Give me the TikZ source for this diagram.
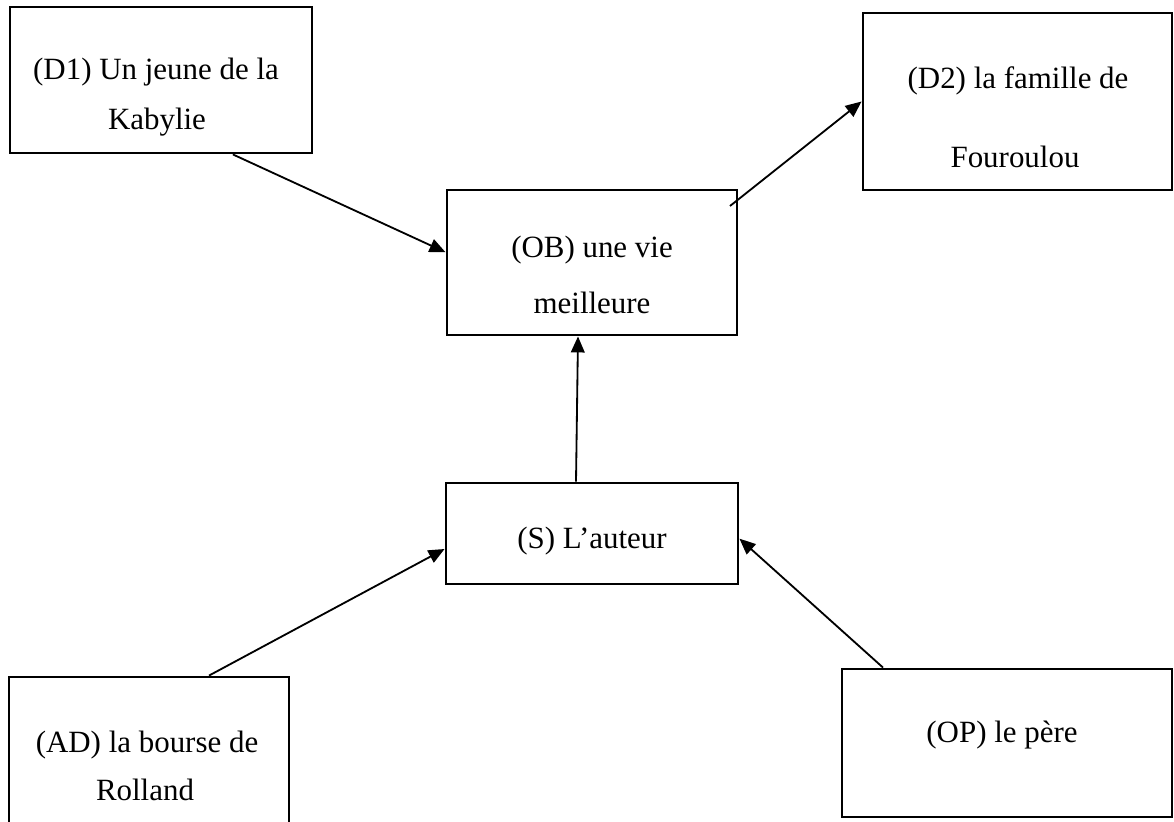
\documentclass[tikz,border=0pt]{standalone}
\usepackage{fontspec}
\setmainfont{Liberation Serif}
\usetikzlibrary{arrows.meta}
\begin{document}
\begin{tikzpicture}[x=0.025cm,y=-0.025cm,line join=miter,
    box/.style={draw,line width=2pt,inner sep=0pt},
    txt/.style={anchor=base,inner sep=0pt,font=\fontsize{22}{26}\selectfont},
    link/.style={line width=1.3pt,-{Triangle[length=0.4cm,width=0.34cm]}}]
  \useasboundingbox (0,0) rectangle (1174,821);
  \clip (0,0) rectangle (1174,821);
  % boxes
  \node[box,minimum width=7.55cm,minimum height=3.65cm] (D1) at (161,80) {};
  \node[box,minimum width=7.725cm,minimum height=4.425cm] (D2) at (1017.5,101.5) {};
  \node[box,minimum width=7.25cm,minimum height=3.625cm] (OB) at (592,262.5) {};
  \node[box,minimum width=7.3cm,minimum height=2.525cm] (S) at (592,533.5) {};
  \node[box,minimum width=7cm,minimum height=3.825cm] (AD) at (149,753.5) {};
  \node[box,minimum width=8.25cm,minimum height=3.7cm] (OP) at (1007,743) {};
  % texts
  \node[txt] (D1a) at (156,79) {(D1) Un jeune de la};
  \node[txt] (D1b) at (157,129) {Kabylie};
  \node[txt] (D2a) at (1018,88) {(D2) la famille de};
  \node[txt] (D2b) at (1015,167) {Fouroulou};
  \node[txt] (OBa) at (592,257) {(OB) une vie};
  \node[txt] (OBb) at (592,313) {meilleure};
  \node[txt] (Sa) at (592,548) {(S) L’auteur};
  \node[txt] (ADa) at (147,752) {(AD) la bourse de};
  \node[txt] (ADb) at (145,800) {Rolland};
  \node[txt] (OPa) at (1002,742) {(OP) le père};
  % arrows
  \coordinate (OBout) at (730,206);
  \draw[link] (D1.-46) -- (OB.176);
  \draw[link] (OBout) -- (D2.west);
  \draw[link] (576,0 |- S.north) -- (578,0 |- OB.south);
  \draw[link] (209,0 |- AD.north) -- (S.186);
  \draw[link] (883,0 |- OP.north) -- (S.-2);
\end{tikzpicture}
\end{document}
